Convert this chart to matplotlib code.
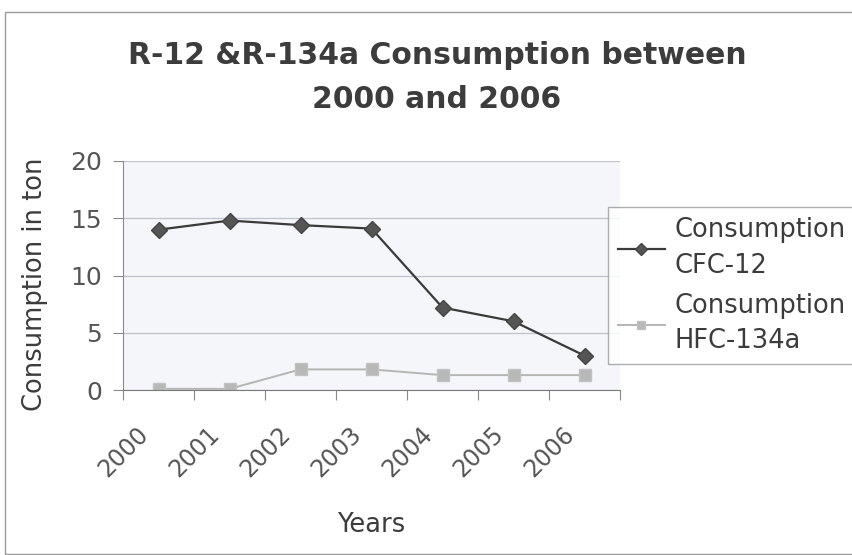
import matplotlib
matplotlib.use("Agg")
import matplotlib.pyplot as plt
from matplotlib.patches import Rectangle
from matplotlib.transforms import ScaledTranslation

years = ["2000", "2001", "2002", "2003", "2004", "2005", "2006"]
cfc12 = [14.0, 14.8, 14.4, 14.1, 7.2, 6.0, 3.0]
hfc134a = [0.1, 0.1, 1.8, 1.8, 1.3, 1.3, 1.3]
series_names = ["Consumption\nCFC-12", "Consumption\nHFC-134a"]
yticks = [0, 5, 10, 15, 20]

plt.rcParams["font.family"] = ["DejaVu Sans"]
text_col = "#3c3c3c"
tick_col = "#555555"

fig = plt.figure(figsize=(8.52, 5.55), dpi=100)
fig.patch.set_facecolor("white")

# outer chart border
fig.add_artist(Rectangle((5 / 852, 0.002), 1.2, 1 - 12 / 555 - 0.002,
                         transform=fig.transFigure, fill=False,
                         edgecolor="#9a9a9a", linewidth=1.0))

ax = fig.add_axes([123 / 852, 1 - 390 / 555, (620 - 123) / 852, (390 - 161) / 555])
ax.set_facecolor("#f4f6fa")

x = list(range(len(years)))
ax.plot(x, cfc12, color="#3a3a3a", linewidth=1.6, marker="D", markersize=8,
        markerfacecolor="#555555", markeredgecolor="#444444", label=series_names[0])
ax.plot(x, hfc134a, color="#b5b5b5", linewidth=1.4, marker="s", markersize=8,
        markerfacecolor="#b8b8b8", markeredgecolor="#c2c2c2", label=series_names[1])

ax.set_xlim(-0.5, len(years) - 0.5)
ax.set_ylim(0, 20)
ax.set_yticks(yticks)
ax.set_yticklabels([str(v) for v in yticks], fontsize=18, color=tick_col)
ax.yaxis.grid(True, color="#bfc4cc", linewidth=0.9)
ax.set_axisbelow(True)

# category ticks sit on the boundaries between years
ax.set_xticks([i + 0.5 for i in range(-1, len(years))], minor=False)
ax.set_xticklabels([""] * (len(years) + 1))
ax.set_xticks(x, minor=True)
ax.set_xticklabels(years, minor=True, rotation=45, ha="right", va="center",
                   rotation_mode="anchor", fontsize=17, color=tick_col)
ax.tick_params(axis="x", which="minor", length=0, pad=24)
ax.tick_params(axis="x", which="major", length=7, color="#8a8a8a", direction="out")
ax.tick_params(axis="y", length=7, color="#8a8a8a", direction="out", pad=8)
shift = ScaledTranslation(-0.14, -0.07, fig.dpi_scale_trans)
for lbl in ax.get_xticklabels(minor=True):
    lbl.set_transform(lbl.get_transform() + shift)

for side in ["top", "right"]:
    ax.spines[side].set_visible(False)
ax.spines["left"].set_color("#8a8a8a")
ax.spines["bottom"].set_color("#7a7a7a")

ax.set_ylabel("Consumption in ton", fontsize=18.5, color=text_col)
ax.yaxis.set_label_coords(-0.15, 0.46)
ax.set_xlabel("Years", fontsize=18.5, color=text_col, labelpad=22)

fig.text(437 / 852, 1 - 55 / 555, "R-12 &R-134a Consumption between",
         ha="center", va="center", fontsize=21.5, fontweight="bold", color=text_col)
fig.text(437 / 852, 1 - 100 / 555, "2000 and 2006",
         ha="center", va="center", fontsize=21.5, fontweight="bold", color=text_col)

leg = fig.legend(loc="upper left", bbox_to_anchor=(608 / 852, 1 - 207 / 555),
                 fontsize=18.5, frameon=True, fancybox=False, handlelength=1.8,
                 handletextpad=0.4, borderpad=0.4, labelspacing=0.55,
                 borderaxespad=0, markerscale=0.75)
leg.get_frame().set_edgecolor("#9a9a9a")
leg.get_frame().set_linewidth(1.0)
for t in leg.get_texts():
    t.set_color(text_col)
    t.set_linespacing(1.47)

fig.savefig("out.png", dpi=100, facecolor="white")
